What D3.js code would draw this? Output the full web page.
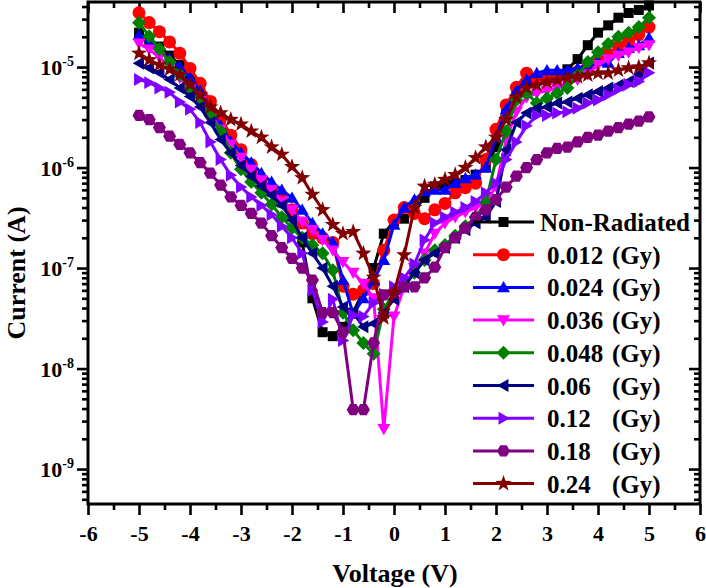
<!DOCTYPE html>
<html><head><meta charset="utf-8">
<script src="https://cdn.jsdelivr.net/npm/d3@7"></script>
<style>
body{margin:0;background:#fff}
</style>
</head><body>
<svg id="c" width="706" height="588"></svg>
<script>
const voltage = [-5.0,-4.8,-4.6,-4.4,-4.2,-4.0,-3.8,-3.6,-3.4,-3.2,-3.0,-2.8,-2.6,-2.4,-2.2,-2.0,-1.8,-1.6,-1.4,-1.2,-1.0,-0.8,-0.6,-0.4,-0.2,0.0,0.2,0.4,0.6,0.8,1.0,1.2,1.4,1.6,1.8,2.0,2.2,2.4,2.6,2.8,3.0,3.2,3.4,3.6,3.8,4.0,4.2,4.4,4.6,4.8,5.0];

const nonRadiated = [2.2e-5,1.9e-5,1.6e-5,1.3e-5,1.05e-5,8.5e-6,6.3e-6,4.5e-6,3.1e-6,2.1e-6,1.5e-6,1.0e-6,7.5e-7,5.8e-7,4.5e-7,3.5e-7,1.8e-7,5.0e-8,2.3e-8,2.1e-8,2.6e-8,3.6e-8,6.0e-8,1.0e-7,2.2e-7,2.9e-7,3.1e-7,3.8e-7,5.0e-7,6.5e-7,6.8e-7,7.0e-7,7.5e-7,8.5e-7,1.0e-6,1.6e-6,3.5e-6,5.5e-6,7.0e-6,7.5e-6,7.5e-6,8.0e-6,9.5e-6,1.2e-5,1.65e-5,2.2e-5,2.6e-5,3.1e-5,3.45e-5,3.7e-5,4.1e-5];
const gy012 = [3.47e-5,2.77e-5,2.25e-5,1.78e-5,1.37e-5,9.7e-6,6.9e-6,4.55e-6,3.1e-6,2.1e-6,1.5e-6,1.07e-6,7.5e-7,6.0e-7,4.8e-7,3.8e-7,2.8e-7,2.2e-7,2.0e-7,1.8e-7,6.6e-8,5.5e-8,6.0e-8,7.0e-8,1.5e-7,3.0e-7,4.0e-7,3.5e-7,3.1e-7,3.8e-7,4.4e-7,5.6e-7,6.3e-7,7.0e-7,1.2e-6,2.4e-6,4.2e-6,6.3e-6,8.7e-6,7.5e-6,7.5e-6,7.8e-6,8.3e-6,9.0e-6,1.0e-5,1.15e-5,1.35e-5,1.6e-5,1.8e-5,2.1e-5,2.5e-5];
const gy024 = [2.08e-5,1.75e-5,1.48e-5,1.2e-5,1.0e-5,7.8e-6,5.8e-6,3.9e-6,2.6e-6,1.8e-6,1.4e-6,1.12e-6,8.8e-7,7.2e-7,6.0e-7,5.0e-7,3.8e-7,2.8e-7,2.2e-7,1.8e-7,7.6e-8,3.5e-8,5.0e-8,7.5e-8,1.2e-7,2.7e-7,4.0e-7,4.8e-7,5.8e-7,6.0e-7,6.0e-7,7.0e-7,7.8e-7,8.5e-7,1.0e-6,2.0e-6,3.8e-6,5.8e-6,7.5e-6,8.7e-6,9.3e-6,9.3e-6,9.3e-6,9.8e-6,1.05e-5,1.15e-5,1.1e-5,1.38e-5,1.55e-5,1.65e-5,1.95e-5];
const gy036 = [1.72e-5,1.5e-5,1.25e-5,1.0e-5,7.8e-6,6.0e-6,4.6e-6,3.4e-6,2.4e-6,1.7e-6,1.25e-6,9.5e-7,7.5e-7,6.0e-7,4.6e-7,3.8e-7,2.9e-7,2.4e-7,1.9e-7,1.5e-7,1.15e-7,9.0e-8,7.0e-8,5.0e-8,2.5e-9,3.3e-8,6.5e-8,1.0e-7,1.4e-7,2.2e-7,2.8e-7,3.2e-7,3.6e-7,4.0e-7,4.5e-7,6.5e-7,1.9e-6,3.6e-6,5.0e-6,5.5e-6,5.8e-6,6.2e-6,6.8e-6,7.5e-6,8.5e-6,1.05e-5,1.2e-5,1.3e-5,1.4e-5,1.55e-5,1.65e-5];
const gy048 = [2.76e-5,2.03e-5,1.51e-5,1.12e-5,8.4e-6,6.1e-6,4.5e-6,3.3e-6,2.3e-6,1.4e-6,9.6e-7,7.2e-7,5.6e-7,4.3e-7,3.2e-7,2.5e-7,2.0e-7,1.7e-7,1.4e-7,9.5e-8,3.6e-8,2.4e-8,1.8e-8,1.4e-8,3.9e-8,5.7e-8,7.0e-8,9.0e-8,1.2e-7,1.5e-7,1.7e-7,2.1e-7,2.6e-7,3.2e-7,4.5e-7,1.2e-6,2.3e-6,4.7e-6,5.5e-6,4.4e-6,4.9e-6,5.5e-6,6.2e-6,8.3e-6,1.12e-5,1.4e-5,1.7e-5,2.0e-5,2.2e-5,2.5e-5,3.1e-5];
const gy060 = [1.09e-5,9.8e-6,8.8e-6,7.5e-6,6.2e-6,5.1e-6,4.0e-6,2.8e-6,1.9e-6,1.4e-6,1.05e-6,8.2e-7,6.5e-7,5.3e-7,4.2e-7,3.0e-7,2.0e-7,1.4e-7,1.0e-7,6.6e-8,4.1e-8,3.6e-8,2.6e-8,2.8e-8,3.6e-8,4.9e-8,6.5e-8,9.0e-8,1.2e-7,1.4e-7,1.6e-7,2.0e-7,2.4e-7,2.8e-7,3.2e-7,4.6e-7,1.5e-6,2.8e-6,3.5e-6,3.9e-6,4.0e-6,4.4e-6,4.5e-6,4.9e-6,5.3e-6,5.7e-6,6.2e-6,6.6e-6,7.2e-6,8.5e-6,1.1e-5];
const gy120 = [7.5e-6,7.0e-6,6.2e-6,5.6e-6,4.5e-6,3.8e-6,2.8e-6,1.8e-6,1.2e-6,8.4e-7,6.4e-7,5.1e-7,4.2e-7,3.4e-7,2.6e-7,2.0e-7,1.4e-7,6.0e-8,2.9e-8,4.9e-8,1.9e-8,3.4e-8,3.3e-8,4.5e-8,5.5e-8,6.5e-8,8.0e-8,1.1e-7,1.9e-7,2.8e-7,3.2e-7,3.6e-7,4.0e-7,4.6e-7,5.6e-7,7.0e-7,1.2e-6,1.8e-6,2.6e-6,3.3e-6,3.3e-6,3.5e-6,3.6e-6,3.9e-6,4.4e-6,4.7e-6,5.3e-6,6.0e-6,6.7e-6,7.2e-6,8.8e-6];
const gy180 = [3.3e-6,3.0e-6,2.5e-6,2.05e-6,1.7e-6,1.4e-6,1.12e-6,8.8e-7,6.7e-7,5.1e-7,4.2e-7,3.5e-7,2.8e-7,2.1e-7,1.6e-7,1.25e-7,1.0e-7,7.6e-8,3.6e-8,3.6e-8,2.3e-8,3.9e-9,3.9e-9,1.8e-8,5.4e-8,5.7e-8,6.5e-8,6.5e-8,8.0e-8,1.02e-7,1.6e-7,2.0e-7,2.5e-7,3.2e-7,3.8e-7,4.8e-7,6.4e-7,8.2e-7,1.0e-6,1.2e-6,1.4e-6,1.55e-6,1.6e-6,1.8e-6,2.0e-6,2.1e-6,2.3e-6,2.5e-6,2.7e-6,2.9e-6,3.2e-6];
const gy240 = [1.37e-5,1.18e-5,1.05e-5,9.5e-6,8.4e-6,6.7e-6,5.3e-6,4.0e-6,3.5e-6,3.0e-6,2.7e-6,2.3e-6,2.0e-6,1.6e-6,1.35e-6,1.02e-6,7.9e-7,5.4e-7,3.8e-7,2.7e-7,2.2e-7,2.3e-7,1.4e-7,8.1e-8,3.2e-8,5.7e-8,1.35e-7,4.0e-7,6.5e-7,6.8e-7,7.6e-7,8.5e-7,1.0e-6,1.25e-6,1.6e-6,2.0e-6,3.0e-6,5.0e-6,6.2e-6,6.6e-6,7.1e-6,7.4e-6,7.8e-6,8.0e-6,8.3e-6,8.7e-6,8.7e-6,9.3e-6,9.8e-6,1.0e-5,1.1e-5];

const seriesNames = ["Non-Radiated","0.012","0.024","0.036","0.048","0.06","0.12","0.18","0.24"];
const seriesValues = [nonRadiated,gy012,gy024,gy036,gy048,gy060,gy120,gy180,gy240];
const seriesColors = ["#000000","#FF0000","#0000FF","#FF00FF","#008000","#000080","#8000FF","#800080","#800000"];
const seriesMarkers = ["square","circle","triUp","triDown","diamond","triLeft","triRight","hexagon","star"];
const unitLabel = "(Gy)";

const xMajor = [-6,-5,-4,-3,-2,-1,0,1,2,3,4,5,6];
const xTickLabels = ["-6","-5","-4","-3","-2","-1","0","1","2","3","4","5","6"];
const xMinor = [-5.5,-4.5,-3.5,-2.5,-1.5,-0.5,0.5,1.5,2.5,3.5,4.5,5.5];
const yExponents = [-9,-8,-7,-6,-5];
const xTitle = "Voltage (V)";
const yTitle = "Current (A)";

const FONT = "'Liberation Serif','Times New Roman',Times,'DejaVu Serif',serif";
const svg = d3.select("#c");
const L=88,R=700,T=2,B=504;
const x = d3.scaleLinear().domain([-6,6]).range([L,R]);
const y = d3.scaleLog().domain([4.49e-10,4.44e-5]).range([B,T]);

function txt(sel){ return sel.attr("font-family",FONT).attr("font-weight","bold").attr("fill","#000"); }

const yMajor = yExponents.map(e=>Math.pow(10,e));
const yMinor = [];
for (let e=-10;e<=-5;e++) for (let m=2;m<=9;m++){const v=m*Math.pow(10,e); if(v>=4.49e-10&&v<=4.44e-5) yMinor.push(v);}

function styleAxis(g){
  g.select(".domain").remove();
  g.selectAll(".tick line").attr("stroke","#000").attr("stroke-width",2.6);
}
// bottom
svg.append("g").attr("transform",`translate(0,${B})`)
  .call(d3.axisBottom(x).tickValues(xMajor).tickSize(11).tickFormat((d,i)=>xTickLabels[i]))
  .call(styleAxis)
  .call(g=>{g.attr("font-family",FONT).attr("font-size",22);
           txt(g.selectAll("text")).attr("y",21).attr("dy","0.71em");});
svg.append("g").attr("transform",`translate(0,${B})`)
  .call(d3.axisBottom(x).tickValues(xMinor).tickSize(6).tickFormat(""))
  .call(styleAxis);
// top (inward)
svg.append("g").attr("transform",`translate(0,${T})`)
  .call(d3.axisTop(x).tickValues(xMajor).tickSize(-11).tickFormat(""))
  .call(styleAxis);
svg.append("g").attr("transform",`translate(0,${T})`)
  .call(d3.axisTop(x).tickValues(xMinor).tickSize(-6).tickFormat(""))
  .call(styleAxis);
// left
svg.append("g").attr("transform",`translate(${L},0)`)
  .call(d3.axisLeft(y).tickValues(yMajor).tickSize(11).tickFormat(""))
  .call(styleAxis);
svg.append("g").attr("transform",`translate(${L},0)`)
  .call(d3.axisLeft(y).tickValues(yMinor).tickSize(6).tickFormat(""))
  .call(styleAxis);
// right (inward)
svg.append("g").attr("transform",`translate(${R},0)`)
  .call(d3.axisRight(y).tickValues(yMajor).tickSize(-11).tickFormat(""))
  .call(styleAxis);
svg.append("g").attr("transform",`translate(${R},0)`)
  .call(d3.axisRight(y).tickValues(yMinor).tickSize(-6).tickFormat(""))
  .call(styleAxis);

// frame
svg.append("rect").attr("x",L).attr("y",T).attr("width",R-L).attr("height",B-T)
  .attr("fill","none").attr("stroke","#000").attr("stroke-width",3);

// y tick labels
yExponents.forEach(e=>{
  const t = txt(svg.append("text")).attr("x",74).attr("y",y(Math.pow(10,e))+8).attr("text-anchor","end");
  t.append("tspan").attr("font-size",22).text("10");
  t.append("tspan").attr("dy",-9).attr("font-size",14).text(String(e));
});

// axis titles
txt(svg.append("text")).attr("x",395).attr("y",582).attr("text-anchor","middle").attr("font-size",26).text(xTitle);
txt(svg.append("text")).attr("transform","translate(25,273) rotate(-90)").attr("text-anchor","middle").attr("font-size",26).text(yTitle);

// markers
function markerPath(type){
  const p = d3.path();
  const poly = (pts)=>{pts.forEach((q,i)=>i?p.lineTo(q[0],q[1]):p.moveTo(q[0],q[1])); p.closePath();};
  const reg = (n,r,rot)=>{const a=[];for(let i=0;i<n;i++){const th=rot+i*2*Math.PI/n;a.push([r*Math.cos(th),r*Math.sin(th)]);}return a;};
  switch(type){
    case "square": poly([[-5,-5],[5,-5],[5,5],[-5,5]]); break;
    case "circle": p.arc(0,0,6.5,0,2*Math.PI); break;
    case "triUp": poly(reg(3,7.5,-Math.PI/2).map(q=>[q[0],q[1]+1.2])); break;
    case "triDown": poly(reg(3,7.5,Math.PI/2).map(q=>[q[0],q[1]-1.2])); break;
    case "triLeft": poly(reg(3,7.5,Math.PI).map(q=>[q[0]+1.2,q[1]])); break;
    case "triRight": poly(reg(3,7.5,0).map(q=>[q[0]-1.2,q[1]])); break;
    case "diamond": poly([[0,-7],[7,0],[0,7],[-7,0]]); break;
    case "hexagon": poly(reg(6,6.5,0)); break;
    case "star": { const a=[]; for(let i=0;i<10;i++){const r=i%2?3.4:8.5;const th=-Math.PI/2+i*Math.PI/5;a.push([r*Math.cos(th),r*Math.sin(th)]);} poly(a); } break;
  }
  return p.toString();
}

const line = d3.line().x(d=>x(d[0])).y(d=>y(d[1]));
const plot = svg.append("g");
seriesValues.forEach((vals,si)=>{
  const pts = voltage.map((v,i)=>[v,vals[i]]);
  const g = plot.append("g");
  g.append("path").datum(pts).attr("d",line).attr("fill","none")
    .attr("stroke",seriesColors[si]).attr("stroke-width",3).attr("stroke-linejoin","round");
  g.selectAll("path.m").data(pts).enter().append("path").attr("class","m")
    .attr("d",markerPath(seriesMarkers[si]))
    .attr("transform",d=>`translate(${x(d[0])},${y(d[1])})`)
    .attr("fill",seriesColors[si]);
});

// legend
const leg = svg.append("g");
seriesNames.forEach((name,i)=>{
  const cy = 222 + i*32.7;
  leg.append("line").attr("x1",473).attr("x2",534).attr("y1",cy).attr("y2",cy)
    .attr("stroke",seriesColors[i]).attr("stroke-width",3);
  leg.append("path").attr("d",markerPath(seriesMarkers[i])).attr("transform",`translate(503.5,${cy})`).attr("fill",seriesColors[i]);
  if(i===0){
    txt(leg.append("text")).attr("x",540).attr("y",cy+9).attr("font-size",25).text(name);
  } else {
    txt(leg.append("text")).attr("x",547).attr("y",cy+9).attr("font-size",25).text(name);
    txt(leg.append("text")).attr("x",612).attr("y",cy+9).attr("font-size",25).text(unitLabel);
  }
});
</script>
</body></html>
